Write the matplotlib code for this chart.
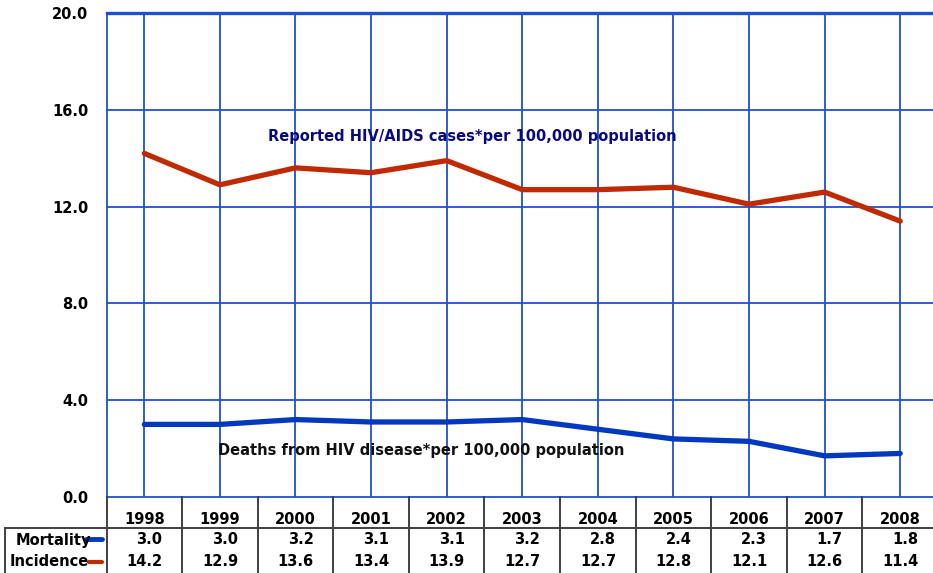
import matplotlib
matplotlib.use("Agg")
import matplotlib.pyplot as plt
from matplotlib.transforms import blended_transform_factory
from matplotlib.lines import Line2D

years = ["1998", "1999", "2000", "2001", "2002", "2003", "2004", "2005", "2006", "2007", "2008"]
mortality = [3.0, 3.0, 3.2, 3.1, 3.1, 3.2, 2.8, 2.4, 2.3, 1.7, 1.8]
incidence = [14.2, 12.9, 13.6, 13.4, 13.9, 12.7, 12.7, 12.8, 12.1, 12.6, 11.4]
yticks = [0.0, 4.0, 8.0, 12.0, 16.0, 20.0]

W, H = 933, 573
fig = plt.figure(figsize=(W / 100, H / 100), dpi=100)
left_px, right_px, top_px, bot_px = 106.5, 938.0, 13, 497
ax = fig.add_axes([left_px / W, (H - bot_px) / H, (right_px - left_px) / W, (bot_px - top_px) / H])

grid_c = "#1F50D0"
red_c = "#C02A00"
blue_c = "#0038C0"
fs = 10.5

x = list(range(len(years)))
ax.set_xlim(-0.5, len(years) - 0.5)
ax.set_ylim(0, 20)

for v in yticks[1:-1]:
    ax.axhline(v, color=grid_c, lw=1.3, zorder=1)
ax.axhline(20, color=grid_c, lw=2.4, zorder=1, clip_on=False)
for xi in x:
    ax.axvline(xi, color=grid_c, lw=1.3, zorder=1)

for s in ["top", "right"]:
    ax.spines[s].set_visible(False)
ax.spines["left"].set_color(grid_c)
ax.spines["left"].set_linewidth(1.3)
ax.spines["bottom"].set_color(grid_c)
ax.spines["bottom"].set_linewidth(1.3)

ax.plot(x, incidence, color=red_c, lw=3.8, solid_capstyle="round", solid_joinstyle="round", zorder=3)
ax.plot(x, mortality, color=blue_c, lw=3.8, solid_capstyle="round", solid_joinstyle="round", zorder=3)

ax.set_yticks(yticks)
ax.set_yticklabels([f"{v:.1f}" for v in yticks], fontsize=fs, fontweight="bold")
ax.tick_params(axis="y", length=0, pad=13)
ax.set_xticks([])


def fy(ypx):
    return 1 - ypx / H


fig.text(268 / W, fy(136), "Reported HIV/AIDS cases*per 100,000 population",
         fontsize=fs, fontweight="bold", color="#0A0A80", va="center", ha="left")
fig.text(218 / W, fy(450), "Deaths from HIV disease*per 100,000 population",
         fontsize=fs, fontweight="bold", color="#111111", va="center", ha="left")

# data table below the axis
tr = blended_transform_factory(ax.transData, fig.transFigure)
tab_c = "#404040"
for i in range(len(years) + 1):
    fig.add_artist(Line2D([i - 0.5, i - 0.5], [fy(497), 0], transform=tr, color=tab_c, lw=1.4))
fig.add_artist(Line2D([5 / W, 1], [fy(528), fy(528)], transform=fig.transFigure, color=tab_c, lw=1.4))
fig.add_artist(Line2D([5 / W, 5 / W], [fy(528), 0], transform=fig.transFigure, color=tab_c, lw=1.4))

for i, yr in enumerate(years):
    fig.text(i, fy(520), yr, transform=tr, ha="center", va="center", fontsize=fs, fontweight="bold")
    fig.text(i + 0.24, fy(540), f"{mortality[i]:.1f}", transform=tr, ha="right", va="center",
             fontsize=fs, fontweight="bold")
    fig.text(i + 0.24, fy(562), f"{incidence[i]:.1f}", transform=tr, ha="right", va="center",
             fontsize=fs, fontweight="bold")

fig.text(16 / W, fy(540), "Mortality", ha="left", va="center", fontsize=fs, fontweight="bold")
fig.text(10 / W, fy(562), "Incidence", ha="left", va="center", fontsize=fs, fontweight="bold")
fig.add_artist(Line2D([86 / W, 102 / W], [fy(539), fy(539)], transform=fig.transFigure,
                      color=blue_c, lw=3.5, solid_capstyle="round"))
fig.add_artist(Line2D([89 / W, 102 / W], [fy(562), fy(562)], transform=fig.transFigure,
                      color=red_c, lw=3.0, solid_capstyle="round"))

fig.savefig("out.png", dpi=100)
